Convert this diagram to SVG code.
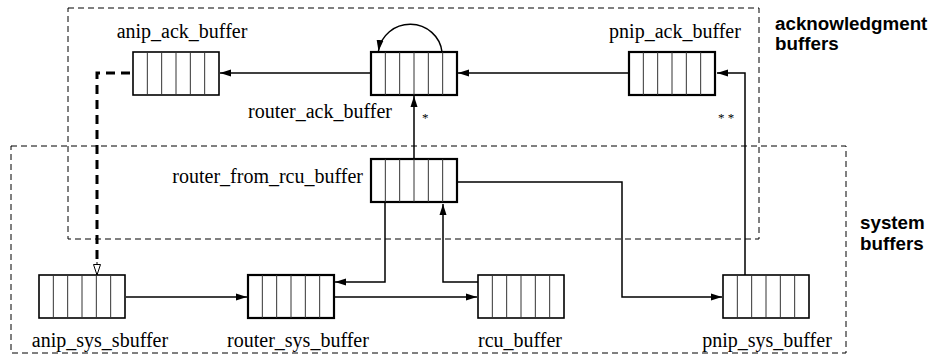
<svg xmlns="http://www.w3.org/2000/svg" xmlns:xlink="http://www.w3.org/1999/xlink" width="939" height="356" viewBox="0 0 939 356">
<style>
.lbl{font-family:"Liberation Serif","Times New Roman",serif;font-size:20px;fill:#000}
.grp{font-family:"Liberation Sans",Arial,sans-serif;font-size:18.8px;font-weight:bold;fill:#000}
.star{font-family:"Liberation Serif",serif;font-size:13px;fill:#000}
.region{fill:none;stroke:#000;stroke-width:1;stroke-dasharray:6 4}
.conn{fill:none;stroke:#000;stroke-width:1.5}
.dash{fill:none;stroke:#000;stroke-width:3;stroke-dasharray:9 6}
.cell{stroke:#333;stroke-width:1}
</style>
<defs>
<marker id="ah" markerWidth="12" markerHeight="8" refX="11" refY="4" orient="auto" markerUnits="userSpaceOnUse">
<path d="M0,0.5 L11,4 L0,7.5 Z" fill="#000"/>
</marker>
<marker id="aho" markerWidth="12" markerHeight="10" refX="11" refY="4" orient="auto" markerUnits="userSpaceOnUse">
<path d="M0.5,0.5 L11,4 L0.5,7.5 Z" fill="#fff" stroke="#000" stroke-width="1"/>
</marker>
<g id="buf">
<rect x="0" y="0" width="86" height="43" fill="#fff" stroke="#000" stroke-width="1.6"/>
<line class="cell" x1="14.33" y1="0" x2="14.33" y2="43"/>
<line class="cell" x1="28.67" y1="0" x2="28.67" y2="43"/>
<line class="cell" x1="43" y1="0" x2="43" y2="43"/>
<line class="cell" x1="57.33" y1="0" x2="57.33" y2="43"/>
<line class="cell" x1="71.67" y1="0" x2="71.67" y2="43"/>
</g>
<g id="bufb">
<rect x="0" y="0" width="86" height="43" fill="#fff" stroke="#000" stroke-width="2.2"/>
<line class="cell" x1="14.33" y1="0" x2="14.33" y2="43"/>
<line class="cell" x1="28.67" y1="0" x2="28.67" y2="43"/>
<line class="cell" x1="43" y1="0" x2="43" y2="43"/>
<line class="cell" x1="57.33" y1="0" x2="57.33" y2="43"/>
<line class="cell" x1="71.67" y1="0" x2="71.67" y2="43"/>
</g>
</defs>
<rect width="939" height="356" fill="#fff"/>

<g id="regions">
<rect class="region" x="68" y="8" width="691" height="231"/>
<rect class="region" x="11" y="146" width="835" height="207"/>
<text class="grp" x="775" y="30">acknowledgment</text>
<text class="grp" x="775" y="50">buffers</text>
<text class="grp" x="860" y="229">system</text>
<text class="grp" x="860" y="250">buffers</text>
</g>

<g id="connectors">
<line class="conn" x1="371" y1="73" x2="220" y2="73" marker-end="url(#ah)"/>
<line class="conn" x1="629" y1="73" x2="458" y2="73" marker-end="url(#ah)"/>
<path class="conn" d="M442,52 A32,31 0 0 0 378.5,51" marker-end="url(#ah)"/>
<line class="conn" x1="414" y1="159" x2="414" y2="96" marker-end="url(#ah)"/>
<text class="star" x="422" y="122">*</text>
<path class="conn" d="M745,275 L745,73 L717,73" marker-end="url(#ah)"/>
<text class="star" x="718" y="122">* *</text>
<path class="conn" d="M385,203 L385,282 L335,282" marker-end="url(#ah)"/>
<path class="conn" d="M478,282 L443,282 L443,204" marker-end="url(#ah)"/>
<line class="conn" x1="334" y1="297" x2="477" y2="297" marker-end="url(#ah)"/>
<line class="conn" x1="126" y1="297" x2="247" y2="297" marker-end="url(#ah)"/>
<path class="conn" d="M457,182 L622,182 L622,297 L722,297" marker-end="url(#ah)"/>
<path class="dash" d="M130,73 L97,73 L97,262"/>
<line x1="97" y1="262" x2="97" y2="275" stroke="#000" stroke-width="1" marker-end="url(#aho)"/>
</g>

<g id="anip_ack_buffer">
<use xlink:href="#buf" x="133" y="52"/>
<text class="lbl" x="182" y="38" text-anchor="middle">anip_ack_buffer</text>
</g>
<g id="router_ack_buffer">
<use xlink:href="#bufb" x="371" y="52"/>
<text class="lbl" x="320" y="118" text-anchor="middle">router_ack_buffer</text>
</g>
<g id="pnip_ack_buffer">
<use xlink:href="#bufb" x="629" y="52"/>
<text class="lbl" x="675" y="38" text-anchor="middle">pnip_ack_buffer</text>
</g>
<g id="router_from_rcu_buffer">
<use xlink:href="#bufb" x="371" y="159"/>
<text class="lbl" x="363" y="183" text-anchor="end">router_from_rcu_buffer</text>
</g>
<g id="anip_sys_sbuffer">
<use xlink:href="#buf" x="39" y="275"/>
<text class="lbl" x="100" y="347" text-anchor="middle">anip_sys_sbuffer</text>
</g>
<g id="router_sys_buffer">
<use xlink:href="#bufb" x="248" y="275"/>
<text class="lbl" x="298" y="347" text-anchor="middle">router_sys_buffer</text>
</g>
<g id="rcu_buffer">
<use xlink:href="#buf" x="478" y="275"/>
<text class="lbl" x="520" y="347" text-anchor="middle">rcu_buffer</text>
</g>
<g id="pnip_sys_buffer">
<use xlink:href="#buf" x="723" y="275"/>
<text class="lbl" x="767" y="347" text-anchor="middle">pnip_sys_buffer</text>
</g>
</svg>
